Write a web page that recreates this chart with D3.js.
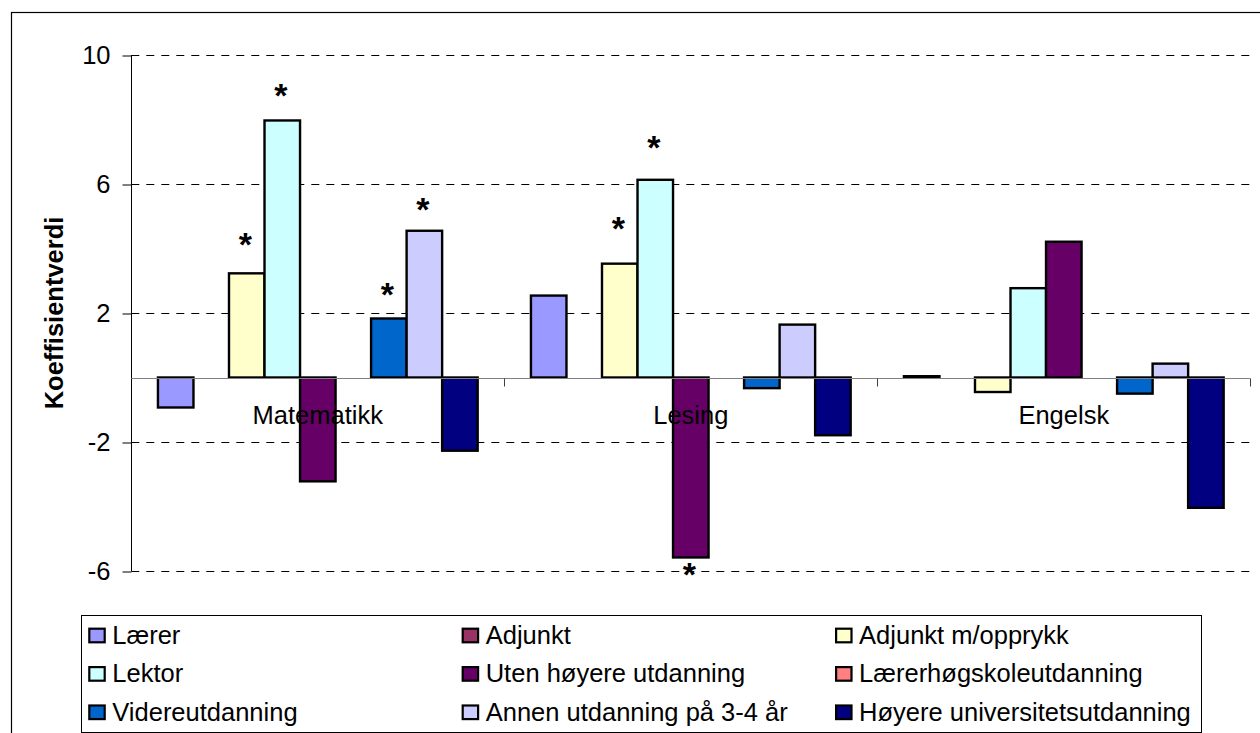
<!DOCTYPE html>
<html>
<head>
<meta charset="utf-8">
<script src="https://cdn.jsdelivr.net/npm/d3@7/dist/d3.min.js"></script>
<style>
  html, body { margin: 0; padding: 0; background: #ffffff; }
  svg { display: block; font-family: "Liberation Sans", Arial, sans-serif; }
</style>
</head>
<body>
<svg id="chart" width="1260" height="733"></svg>
<script>
// Subjects along the category axis
const subjects = ["Matematikk", "Lesing", "Engelsk"];

// Teacher background groups (one bar per group within each subject)
const seriesNames = [
  "Lærer", "Adjunkt", "Adjunkt m/opprykk",
  "Lektor", "Uten høyere utdanning", "Lærerhøgskoleutdanning",
  "Videreutdanning", "Annen utdanning på 3-4 år", "Høyere universitetsutdanning"
];

// Coefficient values per subject (Matematikk, Lesing, Engelsk); null = reference group
const laerer            = [-0.93, 2.54, 0.04];
const adjunkt           = [null, null, null];
const adjunktOpprykk    = [3.23, 3.53, -0.45];
const lektor            = [7.97, 6.13, 2.77];
const utenHoyere        = [-3.22, -5.58, 4.21];
const laererhogskole    = [null, null, null];
const videreutdanning   = [1.83, -0.33, -0.50];
const annenUtdanning    = [4.55, 1.64, 0.43];
const hoyereUniversitet = [-2.27, -1.79, -4.04];

const seriesValues = [
  laerer, adjunkt, adjunktOpprykk,
  lektor, utenHoyere, laererhogskole,
  videreutdanning, annenUtdanning, hoyereUniversitet
];

// Y axis ticks
const yTicks = [10, 6, 2, -2, -6];
const yTickLabels = ["10", "6", "2", "-2", "-6"];

// Significant coefficients, with the level where the asterisk sits
const significance = [
  { subject: "Matematikk", series: "Adjunkt m/opprykk", markAt: 4.21 },
  { subject: "Matematikk", series: "Lektor", markAt: 8.82 },
  { subject: "Matematikk", series: "Videreutdanning", markAt: 2.66 },
  { subject: "Matematikk", series: "Annen utdanning på 3-4 år", markAt: 5.30 },
  { subject: "Lesing", series: "Adjunkt m/opprykk", markAt: 4.70 },
  { subject: "Lesing", series: "Lektor", markAt: 7.21 },
  { subject: "Lesing", series: "Uten høyere utdanning", markAt: -6.01 }
];

const colors = [
  "#9999FF", "#993366", "#FFFFCC",
  "#CCFFFF", "#660066", "#FF8080",
  "#0066CC", "#CCCCFF", "#000080"
];

const svg = d3.select("#chart");
const FONT = 25.5;

// Plot geometry
const plot = { left: 131.3, right: 1250.3, top: 55, bottom: 571 };

const x0 = d3.scaleBand().domain(subjects).range([plot.left, plot.right]).padding(0);
const x1 = d3.scaleBand().domain(seriesNames).range([0, x0.bandwidth()])
  .paddingInner(0).paddingOuter(0.75);
const y = d3.scaleLinear().domain([-6, 10]).range([plot.bottom, plot.top]);
const color = d3.scaleOrdinal().domain(seriesNames).range(colors);

// Outer chart frame
svg.append("rect")
  .attr("x", 11.5).attr("y", 12.5)
  .attr("width", 1300).attr("height", 800)
  .attr("fill", "none").attr("stroke", "#000").attr("stroke-width", 1.2);

// Dashed gridlines
svg.append("g").selectAll("line")
  .data(yTicks)
  .join("line")
  .attr("x1", plot.left).attr("x2", plot.right)
  .attr("y1", d => Math.round(y(d)) + 0.5).attr("y2", d => Math.round(y(d)) + 0.5)
  .attr("stroke", "#000").attr("stroke-width", 1)
  .attr("stroke-dasharray", "8,7");

// Y axis
const yAxis = d3.axisLeft(y)
  .tickValues(yTicks)
  .tickFormat((d, i) => yTickLabels[i])
  .tickSize(9).tickPadding(12);

const gy = svg.append("g")
  .attr("transform", `translate(${Math.round(plot.left) + 0.5},0)`)
  .call(yAxis);
gy.select(".domain").attr("stroke", "#000").attr("d",
  `M0,${y(10)}V${y(-6)}`);
gy.selectAll(".tick line").attr("stroke", "#000")
  .attr("transform", d => `translate(0,${Math.round(y(d)) + 0.5 - y(d)})`);
gy.selectAll(".tick text")
  .attr("font-family", "Liberation Sans, Arial, sans-serif")
  .attr("font-size", FONT).attr("fill", "#000");

// Y axis title
svg.append("text")
  .attr("transform", `translate(63.3,${(plot.top + plot.bottom) / 2}) rotate(-90)`)
  .attr("text-anchor", "middle")
  .attr("font-size", FONT).attr("font-weight", "bold")
  .text("Koeffisientverdi");

// Bars
const bars = [];
subjects.forEach((s, si) => {
  seriesNames.forEach((name, ki) => {
    const v = seriesValues[ki][si];
    if (v !== null) bars.push({ subject: s, series: name, value: v });
  });
});

svg.append("g").selectAll("rect")
  .data(bars)
  .join("rect")
  .attr("x", d => x0(d.subject) + x1(d.series))
  .attr("width", x1.bandwidth())
  .attr("y", d => y(Math.max(0, d.value)))
  .attr("height", d => Math.abs(y(d.value) - y(0)))
  .attr("fill", d => color(d.series))
  .attr("stroke", "#000").attr("stroke-width", 2.4);

// Category axis through zero
const zeroY = Math.round(y(0)) + 0.5;
svg.append("line")
  .attr("x1", plot.left).attr("x2", plot.right)
  .attr("y1", zeroY).attr("y2", zeroY)
  .attr("stroke", "#808080").attr("stroke-width", 1.2);

const boundaries = subjects.map(s => x0(s)).concat([x0.range()[1]]);
svg.append("g").selectAll("line")
  .data(boundaries.slice(1))
  .join("line")
  .attr("x1", d => Math.round(d) + 0.5).attr("x2", d => Math.round(d) + 0.5)
  .attr("y1", zeroY).attr("y2", zeroY + 8)
  .attr("stroke", "#404040").attr("stroke-width", 1);

// Category labels
svg.append("g").selectAll("text")
  .data(subjects)
  .join("text")
  .attr("x", d => x0(d) + x0.bandwidth() / 2)
  .attr("y", y(0) + 46.5)
  .attr("text-anchor", "middle")
  .attr("font-size", FONT)
  .text(d => d);

// Significance asterisks
const STAR = 34;
svg.append("g").selectAll("text")
  .data(significance)
  .join("text")
  .attr("x", d => x0(d.subject) + x1(d.series) + x1.bandwidth() / 2 - 1.5)
  .attr("y", d => y(d.markAt) + STAR * 0.42)
  .attr("text-anchor", "middle")
  .attr("font-size", STAR).attr("font-weight", "bold")
  .text("*");

// Legend
const legend = { x: 81.5, y: 615.5, width: 1120, height: 117, colStep: 373.4, rowStep: 38.4, firstBaseline: 644 };
svg.append("rect")
  .attr("x", legend.x).attr("y", legend.y)
  .attr("width", legend.width).attr("height", legend.height)
  .attr("fill", "#fff").attr("stroke", "#000").attr("stroke-width", 1);

const items = svg.append("g").selectAll("g")
  .data(seriesNames)
  .join("g")
  .attr("transform", (d, i) =>
    `translate(${legend.x + 7.8 + (i % 3) * legend.colStep},${legend.firstBaseline + Math.floor(i / 3) * legend.rowStep})`);

items.append("rect")
  .attr("x", 0).attr("y", -15.3)
  .attr("width", 15.4).attr("height", 13.6)
  .attr("fill", d => color(d))
  .attr("stroke", "#000").attr("stroke-width", 2.2);

items.append("text")
  .attr("x", 23)
  .attr("y", 0)
  .attr("font-size", FONT)
  .text(d => d);
</script>
</body>
</html>
